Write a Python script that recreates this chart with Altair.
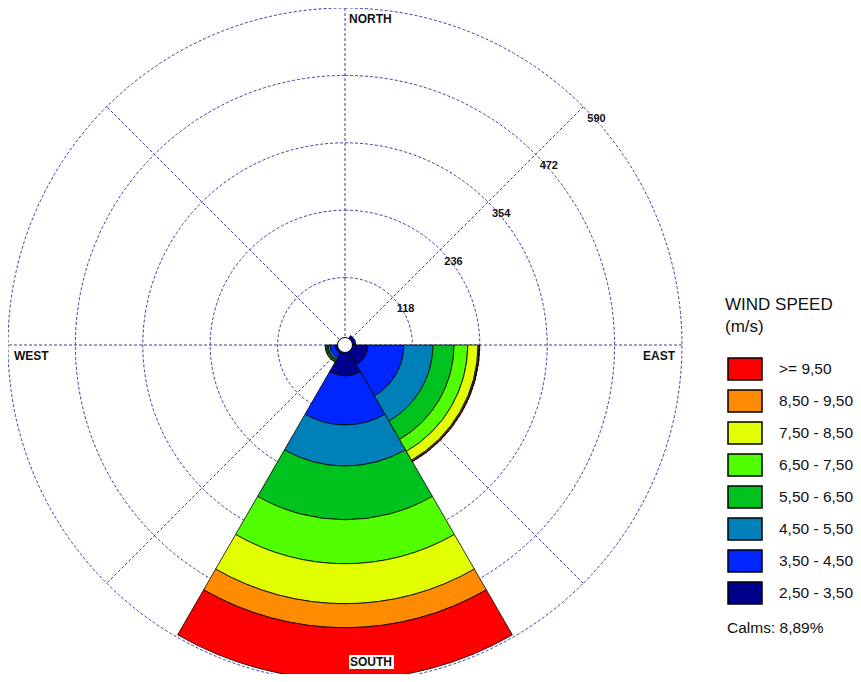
import math
import pandas as pd
import altair as alt

# ---------------- data ----------------
# wind-speed classes (legend order, top to bottom)
classes = [">= 9,50", "8,50 - 9,50", "7,50 - 8,50", "6,50 - 7,50",
           "5,50 - 6,50", "4,50 - 5,50", "3,50 - 4,50", "2,50 - 3,50"]
colors = ["#ff0000", "#ff8c00", "#e1ff00", "#52ff00",
          "#00c21f", "#0080b8", "#0026ff", "#00008c"]

# sector centres (degrees clockwise from north)
sector_dirs = [60, 240, 120, 180]
# counts per class, lowest class (2,50-3,50) first
freq_060 = [19, 0, 0, 0, 0, 0, 0, 0]
freq_240 = [17, 9, 4, 2, 2, 1, 0, 0]
freq_120 = [40, 63, 51, 37, 24, 18, 2, 1]
freq_180 = [54, 86, 72, 94, 77, 70, 42, 91]
sector_freqs = [freq_060, freq_240, freq_120, freq_180]

ring_values = [118, 236, 354, 472, 590]
spoke_dirs = [0, 45, 90, 135]
calms_text = "Calms: 8,89%"
legend_title = ["WIND SPEED", "(m/s)"]

# ---------------- layout / style ----------------
FONT = "Liberation Sans"
GRID = "#3c3ca0"
CX, CY = 337, 337          # centre of the rose (chart coords)
R_PX = 337                 # pixel radius of outer ring
R_MAX = 590
SECTOR_W = 60

theta_scale = alt.Scale(domain=[0, 360], range=[0, 2 * math.pi])
radius_scale = alt.Scale(type="linear", domain=[0, R_MAX], range=[0, R_PX], zero=True)
low_to_high = classes[::-1]

rows = []
for d, freqs in zip(sector_dirs, sector_freqs):
    cum = 0
    for cls, f in zip(low_to_high, freqs):
        if f <= 0:
            continue
        rows.append({"dir": d, "cls": cls, "t0": d - SECTOR_W / 2, "t1": d + SECTOR_W / 2,
                     "r0": cum, "r1": cum + f})
        cum += f
wedges_df = pd.DataFrame(rows)

rings_df = pd.DataFrame({"r": ring_values, "t0": 0, "t1": 360})
labels_df = pd.DataFrame({"r": ring_values, "ang": 45, "lbl": [str(v) for v in ring_values]})

sp = []
for a in spoke_dirs:
    rad = math.radians(a)
    sp.append({"x1": CX + R_PX * math.sin(rad), "y1": CY - R_PX * math.cos(rad),
               "x2": CX - R_PX * math.sin(rad), "y2": CY + R_PX * math.cos(rad)})
spokes_df = pd.DataFrame(sp)
one = pd.DataFrame({"a": [0]})

# ---------------- layers ----------------
rings = alt.Chart(rings_df).mark_arc(
    fillOpacity=0, stroke=GRID, strokeWidth=1, strokeDash=[3, 2]
).encode(
    x=alt.value(CX), y=alt.value(CY),
    theta=alt.Theta("t0:Q", scale=theta_scale, stack=None), theta2="t1:Q",
    radius=alt.Radius("r:Q", scale=radius_scale),
)

spokes = alt.Chart(spokes_df).mark_rule(
    stroke=GRID, strokeWidth=1, strokeDash=[3, 2]
).encode(
    x=alt.X("x1:Q", scale=None), y=alt.Y("y1:Q", scale=None),
    x2="x2:Q", y2="y2:Q",
)

wedges = alt.Chart(wedges_df).mark_arc(stroke="black", strokeWidth=0.8).encode(
    x=alt.value(CX), y=alt.value(CY),
    theta=alt.Theta("t0:Q", scale=theta_scale, stack=None), theta2="t1:Q",
    radius=alt.Radius("r1:Q", scale=radius_scale), radius2="r0:Q",
    color=alt.Color("cls:N", sort=classes,
                    scale=alt.Scale(domain=classes, range=colors),
                    legend=alt.Legend(
                        title=legend_title, orient="none", legendX=717, legendY=289,
                        padding=0, titleFont=FONT, titleFontSize=17,
                        titleFontWeight="normal", titleColor="#111",
                        titleLineHeight=22, titlePadding=15,
                        labelFont=FONT, labelFontSize=15.5, labelColor="#111",
                        labelOffset=16, labelLimit=300,
                        symbolType="M-1,-0.647H1V0.647H-1Z", symbolSize=1156,
                        symbolStrokeColor="black", symbolStrokeWidth=1.5,
                        symbolOffset=2, rowPadding=-2)),
    order=alt.Order("r0:Q"),
)

calm_circle = alt.Chart(one).mark_arc(fill="white", stroke="black", strokeWidth=1).encode(
    x=alt.value(CX), y=alt.value(CY),
    theta=alt.value(0), theta2=alt.value(2 * math.pi), radius=alt.value(7.5),
)

ring_labels = alt.Chart(labels_df).mark_text(
    font=FONT, fontSize=11, fontWeight="bold", color="#111",
    align="left", baseline="middle", dx=4, dy=12,
).encode(
    x=alt.value(CX), y=alt.value(CY),
    theta=alt.Theta("ang:Q", scale=theta_scale, stack=None),
    radius=alt.Radius("r:Q", scale=radius_scale),
    text="lbl:N",
)


def dir_label(txt, x, y):
    return alt.Chart(one).mark_text(
        font=FONT, fontSize=12, fontWeight="bold", color="#111",
        align="left", baseline="middle",
    ).encode(x=alt.value(x), y=alt.value(y), text=alt.value(txt))


south_bg = alt.Chart(one).mark_rect(fill="white").encode(
    x=alt.value(341), x2=alt.value(386), y=alt.value(647), y2=alt.value(661))

calms = alt.Chart(one).mark_text(
    font=FONT, fontSize=15.5, color="#111", align="left", baseline="middle"
).encode(x=alt.value(719), y=alt.value(620), text=alt.value(calms_text))

chart = alt.layer(
    rings, spokes, wedges, calm_circle, ring_labels,
    dir_label("NORTH", 341, 11), dir_label("WEST", 6, 348), dir_label("EAST", 635, 348),
    south_bg, dir_label("SOUTH", 342, 654), calms,
).properties(
    width=845, height=666, padding=0, autosize="none", background="white"
).configure_view(stroke=None)

chart.save("out.html", embed_options={"renderer": "svg", "actions": False})
